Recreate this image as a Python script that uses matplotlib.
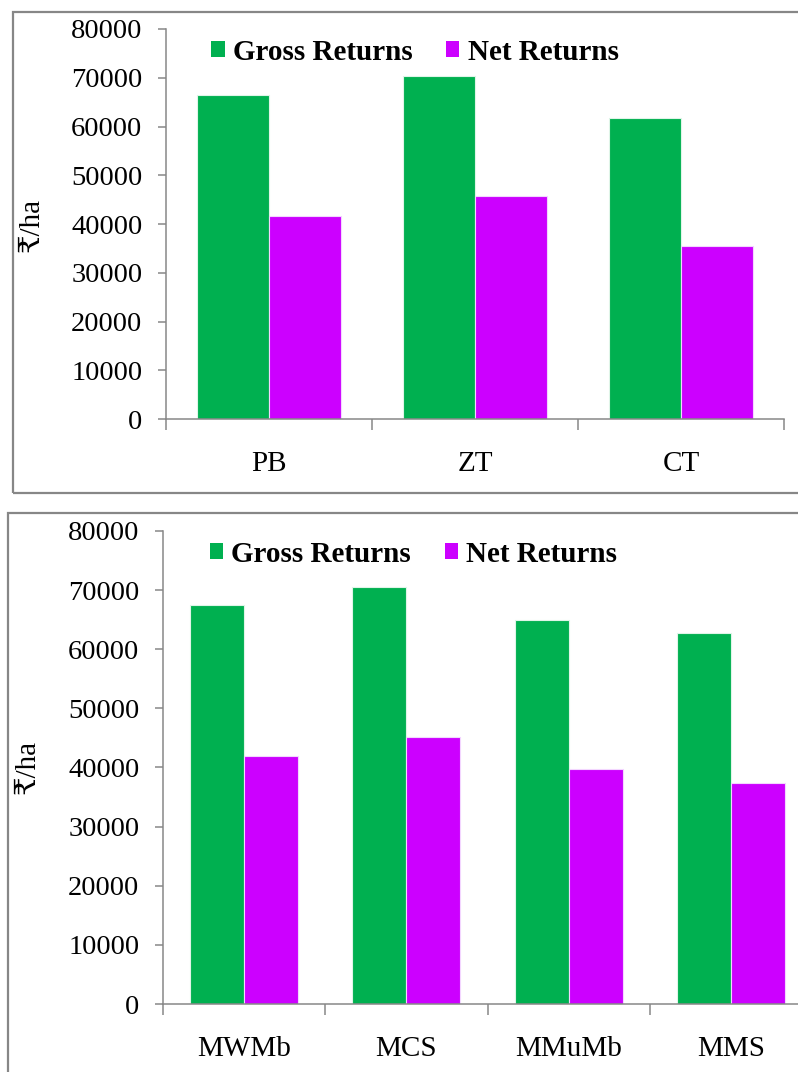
import matplotlib
matplotlib.use("Agg")
import matplotlib.pyplot as plt
from matplotlib.patches import Rectangle, Patch
import numpy as np

# Returns per hectare for tillage and cropping system treatments
tillage = ["PB", "ZT", "CT"]
tillage_gross = [66500, 70400, 61700]
tillage_net = [41700, 45700, 35400]

systems = ["MWMb", "MCS", "MMuMb", "MMS"]
systems_gross = [67400, 70500, 65000, 62700]
systems_net = [42000, 45100, 39700, 37300]

yticks = [0, 10000, 20000, 30000, 40000, 50000, 60000, 70000, 80000]

GREEN = "#00b050"
PURPLE = "#cc00ff"
GREY = "#878787"
SERIF = ["Liberation Serif", "DejaVu Serif", "DejaVu Sans"]

plt.rcParams["font.family"] = SERIF

W, H = 798, 1072
fig = plt.figure(figsize=(W / 100, H / 100), dpi=100)


def px_axes(left, top, right, bottom):
    return fig.add_axes([left / W, 1 - bottom / H, (right - left) / W, (bottom - top) / H])


def draw_panel(ax, cats, gross, net, bar_w):
    x = np.arange(len(cats)) + 0.5
    ax.bar(x - bar_w / 2, gross, width=bar_w, color=GREEN,
           edgecolor="#dff5e8", linewidth=0.8)
    ax.bar(x + bar_w / 2, net, width=bar_w, color=PURPLE,
           edgecolor="#f3d6ff", linewidth=0.8)
    ax.set_xlim(0, len(cats))
    ax.set_ylim(0, 80000)
    ax.set_yticks(yticks)
    ax.set_yticklabels([str(v) for v in yticks])
    # category boundaries carry the tick marks, labels sit at the centres
    ax.set_xticks(np.arange(len(cats) + 1))
    ax.set_xticklabels([])
    ax.set_xticks(x, minor=True)
    ax.set_xticklabels(cats, minor=True)
    ax.tick_params(axis="x", which="major", length=8, width=1.1, color=GREY, direction="out")
    ax.tick_params(axis="x", which="minor", length=0, pad=23, labelsize=21)
    ax.tick_params(axis="y", length=6, width=1.1, color=GREY, direction="out",
                   pad=11, labelsize=20.5)
    for s in ("top", "right"):
        ax.spines[s].set_visible(False)
    for s in ("left", "bottom"):
        ax.spines[s].set_color(GREY)
        ax.spines[s].set_linewidth(1.1)


def draw_legend(ax, x, y):
    handles = [Patch(facecolor=GREEN, label="Gross Returns"),
               Patch(facecolor=PURPLE, label="Net Returns")]
    ax.legend(handles=handles, loc="center left", bbox_to_anchor=(x, y), ncol=2,
              frameon=False, borderpad=0, borderaxespad=0,
              handlelength=0.46, handleheight=0.46,
              handletextpad=0.28, columnspacing=1.15,
              prop={"family": SERIF, "weight": "bold", "size": 21})


# outer frames around each panel
fig.patches.append(Rectangle((13 / W, 1 - 493 / H), 1.0, (493 - 12) / H,
                             transform=fig.transFigure, fill=False,
                             edgecolor=GREY, linewidth=1.6))
fig.patches.append(Rectangle((8 / W, -0.05), 1.0, 0.05 + (H - 513) / H,
                             transform=fig.transFigure, fill=False,
                             edgecolor=GREY, linewidth=1.6))

ax1 = px_axes(166, 29, 784, 419)
draw_panel(ax1, tillage, tillage_gross, tillage_net, 0.35)
draw_legend(ax1, 0.073, 0.941)

ax2 = px_axes(163, 531, 812, 1004)
draw_panel(ax2, systems, systems_gross, systems_net, 0.333)
draw_legend(ax2, 0.072, 0.951)

fig.text(32 / W, 1 - 225 / H, "₹/ha", rotation=90, ha="center", va="center", fontsize=21)
fig.text(28 / W, 1 - 767 / H, "₹/ha", rotation=90, ha="center", va="center", fontsize=21)

fig.savefig("out.png", dpi=100)
